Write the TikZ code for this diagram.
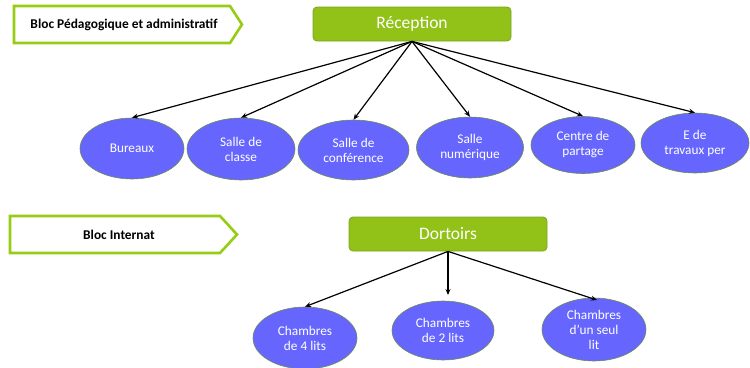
\documentclass[tikz,border=0pt]{standalone}
\usepackage{fontspec}
\setmainfont{Carlito}
\usetikzlibrary{shapes.geometric,arrows.meta}
\definecolor{boxgreen}{RGB}{146,194,24}
\definecolor{boxedge}{RGB}{120,165,30}
\definecolor{tabgreen}{RGB}{150,204,20}
\definecolor{ellfill}{RGB}{102,102,255}
\definecolor{elledge}{RGB}{110,140,80}
\tikzset{
  headbox/.style={draw=boxedge, line width=0.8pt, fill=boxgreen, rounded corners=4pt,
    minimum width=198pt, minimum height=34pt, inner sep=0pt, text=white, font=\fontsize{17.5}{20}\selectfont},
  room/.style={ellipse, draw=elledge, line width=0.6pt, fill=ellfill, inner sep=0pt,
    text=white, align=center, font=\fontsize{13.3}{15}\selectfont},
  tab/.style={draw=tabgreen, line width=2.6pt, fill=white, line join=miter},
  tablabel/.style={font=\bfseries\fontsize{13.4}{15}\selectfont, text=black, inner sep=0pt},
  arr/.style={-{Stealth[length=6pt,width=5pt]}, line width=1.2pt, black}
}
\begin{document}
\begin{tikzpicture}[x=1pt,y=-1pt]
\useasboundingbox (0,0) rectangle (750,367);
% tabs
\draw[tab] (14,6) -- (230,6) -- (242,24.5) -- (230,43) -- (14,43) -- cycle;
\node[tablabel] (t1) at (124,25) {Bloc Pédagogique et administratif};
\draw[tab] (10,216) -- (220,216) -- (237,234.5) -- (220,253) -- (10,253) -- cycle;
\node[tablabel] (t2) at (119,235) {Bloc Internat};
% heads
\node[headbox] (rec) at (412,24) {Réception};
\node[headbox] (dor) at (448,234) {Dortoirs};
% rooms row 1
\node[room, minimum width=104pt, minimum height=61pt] (bur) at (132,148.5) {Bureaux};
\node[room, minimum width=108pt, minimum height=62pt] (cla) at (241,149) {Salle de\\classe};
\node[room, minimum width=111pt, minimum height=60pt] (con) at (353.5,150) {Salle de\\conférence};
\node[room, minimum width=107pt, minimum height=61pt] (num) at (470,147.5) {Salle\\numérique};
\node[room, minimum width=104pt, minimum height=57pt] (par) at (583,145) {Centre de\\partage};
\node[room, minimum width=108pt, minimum height=60pt] (tra) at (695,143) {E de\\travaux per};
% rooms row 2
\node[room, minimum width=104pt, minimum height=62pt] (c4) at (305,338) {Chambres\\de 4 lits};
\node[room, minimum width=102pt, minimum height=59pt] (c2) at (443,330.5) {Chambres\\de 2 lits};
\node[room, minimum width=104pt, minimum height=63pt] (c1) at (594,329.5) {Chambres\\d’un seul\\lit};
% arrows
\foreach \t in {bur,cla,con,num,par,tra} \draw[arr] (rec.south) -- (\t.north);
\draw[arr] (dor.south) -- (c4.north);
\draw[arr] (dor.south) -- (448,295);
\draw[arr] (dor.south) -- (597,300);
\end{tikzpicture}
\end{document}
